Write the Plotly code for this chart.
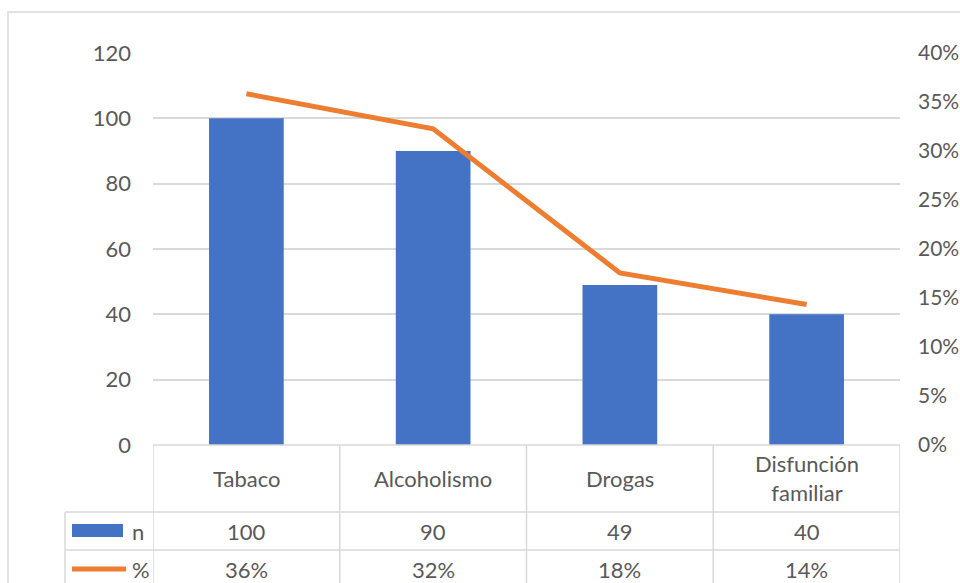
import plotly.graph_objects as go

categories = ["Tabaco", "Alcoholismo", "Drogas", "Disfunción familiar"]
cat_labels = ["Tabaco", "Alcoholismo", "Drogas", "Disfunción<br>familiar"]
n_values = [100, 90, 49, 40]
pct_values = [0.3584, 0.3226, 0.1756, 0.1434]
pct_labels = ["36%", "32%", "18%", "14%"]
left_ticks = [0, 20, 40, 60, 80, 100, 120]
right_ticks = [0, 0.05, 0.10, 0.15, 0.20, 0.25, 0.30, 0.35, 0.40]

W, H = 960, 583
L, R, T, B = 153, 900, 53, 445
PW, PH = R - L, B - T

def px(x):
    return (x - L) / PW

def py(y):
    return (B - y) / PH

BLUE = "#4472C4"
ORANGE = "#ED7D31"
GRID = "#D9D9D9"
TXT = "#595959"
FONT = "Lato"
FS = 22

fig = go.Figure()
fig.add_trace(go.Bar(x=categories, y=n_values, marker=dict(color=BLUE, line=dict(width=0)),
                     width=0.4, name="n", yaxis="y"))
fig.add_trace(go.Scatter(x=categories, y=pct_values, mode="lines",
                         line=dict(color=ORANGE, width=5), name="%", yaxis="y2"))

shapes = []
# outer chart border
shapes.append(dict(type="rect", xref="paper", yref="paper", x0=px(8), x1=px(1000), y0=py(640), y1=py(12),
                   line=dict(color=GRID, width=1.5), layer="below"))
# table horizontal lines
for yy, x0 in [(B, L), (512, 65), (550, 65)]:
    shapes.append(dict(type="line", xref="paper", yref="paper", x0=px(x0), x1=px(R), y0=py(yy), y1=py(yy),
                       line=dict(color=GRID, width=1.5)))
# table vertical lines (cell boundaries between categories)
for i in range(len(categories) + 1):
    shapes.append(dict(type="line", xref="x", yref="paper", x0=i - 0.5, x1=i - 0.5, y0=py(B), y1=py(600),
                       line=dict(color=GRID, width=1.5)))
shapes.append(dict(type="line", xref="paper", yref="paper", x0=px(65), x1=px(65), y0=py(512), y1=py(600),
                   line=dict(color=GRID, width=1.5)))
# legend keys
shapes.append(dict(type="rect", xref="paper", yref="paper", x0=px(72), x1=px(123), y0=py(537), y1=py(524),
                   fillcolor=BLUE, line=dict(width=0)))
shapes.append(dict(type="line", xref="paper", yref="paper", x0=px(72), x1=px(126), y0=py(569), y1=py(569),
                   line=dict(color=ORANGE, width=5)))

annotations = []
for i, (c, nv, pl) in enumerate(zip(cat_labels, n_values, pct_labels)):
    annotations.append(dict(x=i, y=py(478), xref="x", yref="paper", text=c, showarrow=False,
                            font=dict(family=FONT, size=FS, color=TXT), align="center", yanchor="middle"))
    annotations.append(dict(x=i, y=py(531), xref="x", yref="paper", text=str(nv), showarrow=False,
                            font=dict(family=FONT, size=FS, color=TXT), yanchor="middle"))
    annotations.append(dict(x=i, y=py(569), xref="x", yref="paper", text=pl, showarrow=False,
                            font=dict(family=FONT, size=FS, color=TXT), yanchor="middle"))
annotations.append(dict(x=px(130), y=py(531), xref="paper", yref="paper", text="n", showarrow=False,
                        xanchor="left", yanchor="middle", font=dict(family=FONT, size=FS, color=TXT)))
annotations.append(dict(x=px(130), y=py(569), xref="paper", yref="paper", text="%", showarrow=False,
                        xanchor="left", yanchor="middle", font=dict(family=FONT, size=FS, color=TXT)))

fig.update_layout(
    width=W, height=H,
    margin=dict(l=L, r=W - R, t=T, b=H - B, pad=0, autoexpand=False),
    plot_bgcolor="white", paper_bgcolor="white",
    showlegend=False,
    bargap=0.6,
    xaxis=dict(type="category", range=[-0.5, 3.5], showticklabels=False, showgrid=False,
               showline=False, zeroline=False, ticks="", automargin=False),
    yaxis=dict(range=[0, 120], tickvals=left_ticks, showgrid=True, gridcolor=GRID, gridwidth=1.5,
               zeroline=False, showline=False, ticks="", ticklabelstandoff=21, automargin=False,
               tickfont=dict(family=FONT, size=FS, color=TXT)),
    yaxis2=dict(range=[0, 0.40], tickvals=right_ticks, tickformat=".0%", overlaying="y", side="right",
                showgrid=False, zeroline=False, showline=False, ticks="", ticklabelstandoff=17,
                automargin=False, tickfont=dict(family=FONT, size=FS - 1, color=TXT)),
    shapes=shapes,
    annotations=annotations,
)

fig.write_html("out.html")
